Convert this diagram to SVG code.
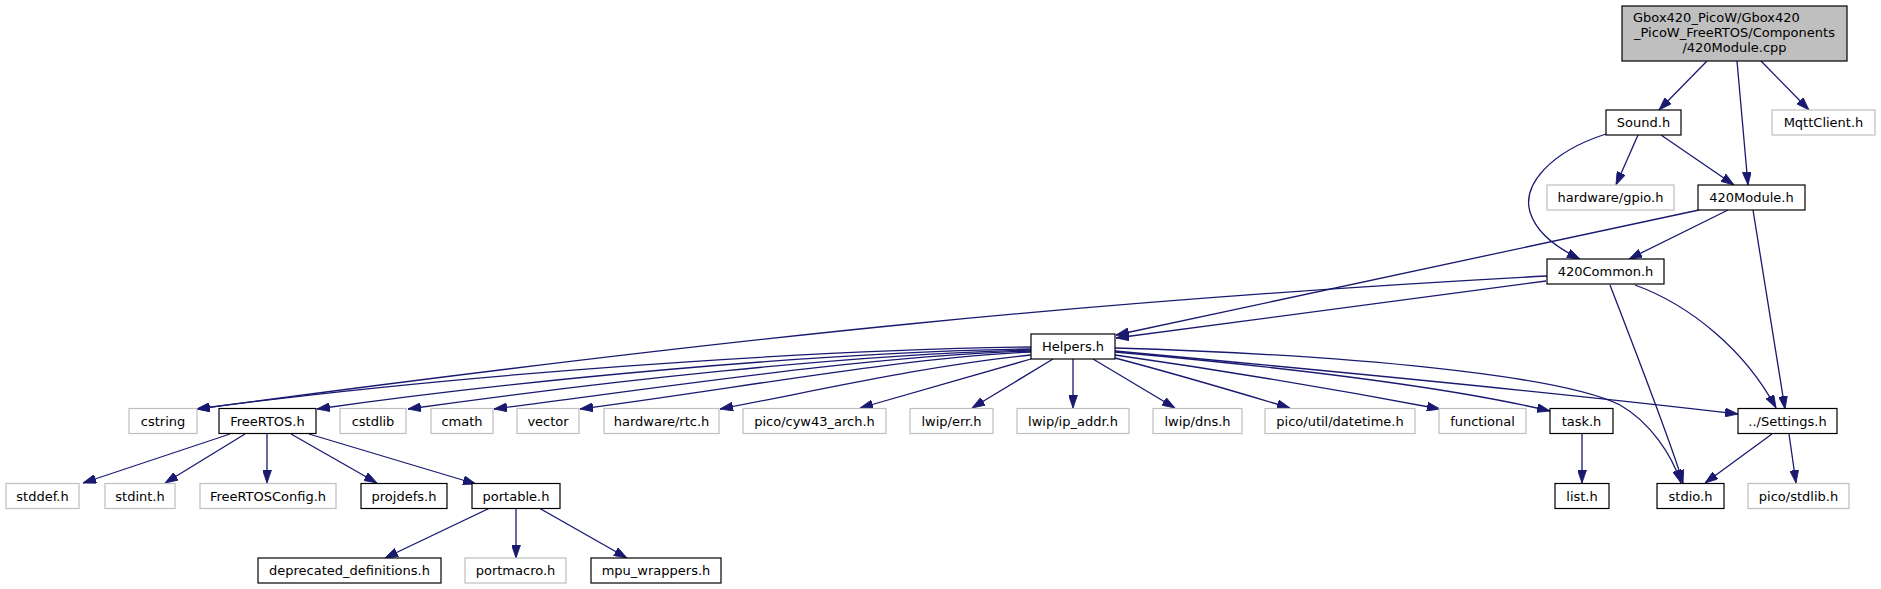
<svg xmlns="http://www.w3.org/2000/svg" width="1881" height="589" viewBox="0 0 1881 589">
<defs>
<style>
.nd rect{fill:#ffffff;stroke:#000000;stroke-width:1.2}
.ng rect{fill:#ffffff;stroke:#bfbfbf;stroke-width:1.2}
.nm rect{fill:#bfbfbf;stroke:#000000;stroke-width:1.2}
text{font-family:"DejaVu Sans","Liberation Sans",sans-serif;font-size:13px;fill:#000000;text-anchor:middle}
#edges path{fill:none;stroke:#191970;stroke-width:1.3;marker-end:url(#arr)}
</style>
<marker id="arr" viewBox="0 0 13 9" refX="13" refY="4.5" markerWidth="13" markerHeight="9" orient="auto" markerUnits="userSpaceOnUse">
<path d="M0,0 L13,4.5 L0,9 z" fill="#191970" stroke="#191970" stroke-width="0.8"/>
</marker>
</defs>
<rect x="0" y="0" width="1881" height="589" fill="#ffffff"/>

<g id="edges">
<path d="M1707,61 L1659,110"/>
<path d="M1737,61 L1748,185"/>
<path d="M1761,61 L1809,110"/>
<path d="M1638,135 L1616,185"/>
<path d="M1661,135 L1734,185"/>
<path d="M1606,134 C1550,152 1522,185 1530,212 C1536,232 1555,247 1580,259"/>
<path d="M1728,210 L1629,259"/>
<path d="M1699,210 L1116,335"/>
<path d="M1753,210 L1785,409"/>
<path d="M1547,276 C1100,300 750,335 197,409"/>
<path d="M1546,281 L1116,338"/>
<path d="M1610,285 C1635,350 1672,445 1683,483"/>
<path d="M1635,285 C1690,305 1745,350 1776,408"/>
<path d="M1031,347 C800,350 450,375 197,409"/>
<path d="M1031,349 C820,352 520,380 317,409"/>
<path d="M1031,350 C850,354 600,382 408,409"/>
<path d="M1031,351 C870,356 680,385 494,409"/>
<path d="M1031,352 C900,358 740,388 580,409"/>
<path d="M1031,355 C930,365 820,390 720,409"/>
<path d="M1031,359 L860,408"/>
<path d="M1053,359 L972,408"/>
<path d="M1073,359 L1073,408"/>
<path d="M1093,359 L1175,408"/>
<path d="M1115,358 C1180,375 1240,393 1290,408"/>
<path d="M1115,355 C1220,370 1350,392 1440,409"/>
<path d="M1115,352 C1260,365 1440,385 1550,411"/>
<path d="M1115,351 C1300,368 1550,392 1738,414"/>
<path d="M1115,348 C1350,355 1560,375 1620,405 C1650,422 1672,455 1681,483"/>
<path d="M230,434 L83,483"/>
<path d="M245,434 L165,483"/>
<path d="M267,434 L267,483"/>
<path d="M291,434 L377,483"/>
<path d="M309,434 L476,484"/>
<path d="M490,508 L385,558"/>
<path d="M516,508 L516,558"/>
<path d="M539,508 L627,558"/>
<path d="M1582,434 L1582,483"/>
<path d="M1772,434 L1705,483"/>
<path d="M1789,434 L1796,483"/>
</g>

<g id="n_main" class="nm"><rect x="1622" y="6" width="225" height="55"/>
<text x="1633" y="21.5" style="text-anchor:start">Gbox420_PicoW/Gbox420</text>
<text x="1734.5" y="36.5">_PicoW_FreeRTOS/Components</text>
<text x="1734.5" y="51.5">/420Module.cpp</text></g>

<g id="n_sound" class="nd"><rect x="1606" y="110" width="75" height="25"/><text x="1643.5" y="127">Sound.h</text></g>
<g id="n_mqtt" class="ng"><rect x="1772" y="110" width="103" height="25"/><text x="1823.5" y="127">MqttClient.h</text></g>
<g id="n_gpio" class="ng"><rect x="1547" y="185" width="127" height="25"/><text x="1610.5" y="202">hardware/gpio.h</text></g>
<g id="n_module" class="nd"><rect x="1698" y="185" width="107" height="25"/><text x="1751.5" y="202">420Module.h</text></g>
<g id="n_common" class="nd"><rect x="1547" y="259" width="117" height="25"/><text x="1605.5" y="276">420Common.h</text></g>
<g id="n_helpers" class="nd"><rect x="1031" y="334" width="84" height="25"/><text x="1073" y="351">Helpers.h</text></g>

<g id="n_cstring" class="ng"><rect x="129" y="408.5" width="68" height="25"/><text x="163" y="425.5">cstring</text></g>
<g id="n_freertos" class="nd"><rect x="219" y="408.5" width="97" height="25"/><text x="267.5" y="425.5">FreeRTOS.h</text></g>
<g id="n_cstdlib" class="ng"><rect x="340" y="408.5" width="66" height="25"/><text x="373" y="425.5">cstdlib</text></g>
<g id="n_cmath" class="ng"><rect x="431" y="408.5" width="62" height="25"/><text x="462" y="425.5">cmath</text></g>
<g id="n_vector" class="ng"><rect x="517" y="408.5" width="62" height="25"/><text x="548" y="425.5">vector</text></g>
<g id="n_rtc" class="ng"><rect x="604" y="408.5" width="115" height="25"/><text x="661.5" y="425.5">hardware/rtc.h</text></g>
<g id="n_cyw43" class="ng"><rect x="743" y="408.5" width="143" height="25"/><text x="814.5" y="425.5">pico/cyw43_arch.h</text></g>
<g id="n_err" class="ng"><rect x="910" y="408.5" width="83" height="25"/><text x="951.5" y="425.5">lwip/err.h</text></g>
<g id="n_ipaddr" class="ng"><rect x="1017" y="408.5" width="112" height="25"/><text x="1073" y="425.5">lwip/ip_addr.h</text></g>
<g id="n_dns" class="ng"><rect x="1153" y="408.5" width="89" height="25"/><text x="1197.5" y="425.5">lwip/dns.h</text></g>
<g id="n_datetime" class="ng"><rect x="1265" y="408.5" width="150" height="25"/><text x="1340" y="425.5">pico/util/datetime.h</text></g>
<g id="n_functional" class="ng"><rect x="1439" y="408.5" width="87" height="25"/><text x="1482.5" y="425.5">functional</text></g>
<g id="n_task" class="nd"><rect x="1550" y="408.5" width="63" height="25"/><text x="1581.5" y="425.5">task.h</text></g>
<g id="n_settings" class="nd"><rect x="1738" y="408.5" width="99" height="25"/><text x="1787.5" y="425.5">../Settings.h</text></g>

<g id="n_stddef" class="ng"><rect x="6" y="483.5" width="73" height="25"/><text x="42.5" y="500.5">stddef.h</text></g>
<g id="n_stdint" class="ng"><rect x="105" y="483.5" width="70" height="25"/><text x="140" y="500.5">stdint.h</text></g>
<g id="n_frconfig" class="ng"><rect x="200" y="483.5" width="136" height="25"/><text x="268" y="500.5">FreeRTOSConfig.h</text></g>
<g id="n_projdefs" class="nd"><rect x="361" y="483.5" width="86" height="25"/><text x="404" y="500.5">projdefs.h</text></g>
<g id="n_portable" class="nd"><rect x="472" y="483.5" width="88" height="25"/><text x="516" y="500.5">portable.h</text></g>
<g id="n_list" class="nd"><rect x="1555" y="483.5" width="54" height="25"/><text x="1582" y="500.5">list.h</text></g>
<g id="n_stdio" class="nd"><rect x="1657" y="483.5" width="67" height="25"/><text x="1690.5" y="500.5">stdio.h</text></g>
<g id="n_stdlib" class="ng"><rect x="1748" y="483.5" width="101" height="25"/><text x="1798.5" y="500.5">pico/stdlib.h</text></g>

<g id="n_deprecated" class="nd"><rect x="258" y="558" width="183" height="25"/><text x="349.5" y="575">deprecated_definitions.h</text></g>
<g id="n_portmacro" class="ng"><rect x="465" y="558" width="101" height="25"/><text x="515.5" y="575">portmacro.h</text></g>
<g id="n_mpu" class="nd"><rect x="591" y="558" width="130" height="25"/><text x="656" y="575">mpu_wrappers.h</text></g>
</svg>
